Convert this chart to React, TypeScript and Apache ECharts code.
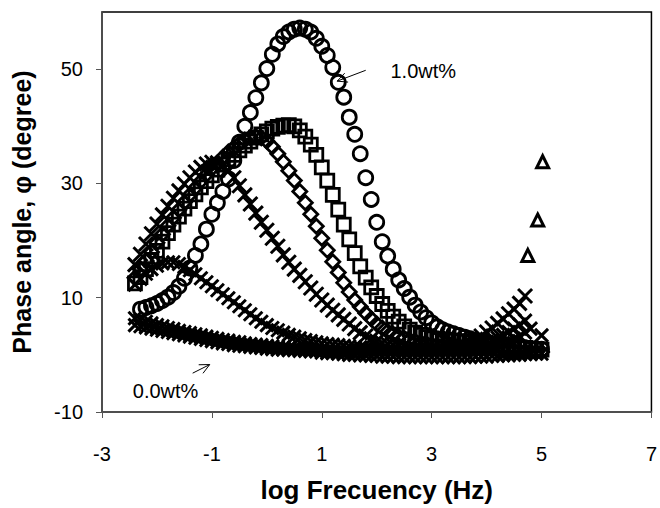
import React, { useEffect, useRef } from "react";
import * as echarts from "echarts";

// log frequency sweep (shared x values)
const logF = [
  -2.4, -2.3, -2.2, -2.1, -2.0, -1.9, -1.8, -1.7, -1.6, -1.5, -1.4, -1.3, -1.2, -1.1, -1.0,
  -0.9, -0.8, -0.7, -0.6, -0.5, -0.4, -0.3, -0.2, -0.1, 0.0, 0.1, 0.2, 0.3, 0.4, 0.5,
  0.6, 0.7, 0.8, 0.9, 1.0, 1.1, 1.2, 1.3, 1.4, 1.5, 1.6, 1.7, 1.8, 1.9, 2.0,
  2.1, 2.2, 2.3, 2.4, 2.5, 2.6, 2.7, 2.8, 2.9, 3.0, 3.1, 3.2, 3.3, 3.4, 3.5,
  3.6, 3.7, 3.8, 3.9, 4.0, 4.1, 4.2, 4.3, 4.4, 4.5, 4.6, 4.7, 4.8, 4.9, 5.0,
];

// 1.0wt% (circles)
const circlePhase = [
  null, 8.0, 8.3, 8.6, 9.0, 9.5, 10.1, 10.9, 12.0, 13.4, 15.2, 17.4, 19.4, 22.0, 24.6,
  26.6, 28.6, 30.8, 34.0, 37.2, 40.0, 42.4, 45.0, 47.6, 50.1, 52.6, 54.4, 55.7, 56.5, 57.0,
  57.2, 57.0, 56.5, 55.4, 54.0, 52.4, 50.3, 47.7, 45.1, 41.6, 38.6, 35.2, 31.0, 27.2, 23.2,
  19.8, 17.3, 15.0, 13.1, 11.6, 10.1, 8.7, 7.5, 6.5, 5.6, 4.9, 4.4, 4.0, 3.7, 3.4,
  3.1, 2.8, 2.5, 2.3, 2.1, 1.9, 1.7, 1.6, 1.5, 1.4, 1.3, 1.2, 1.1, 1.0, 1.0,
];

// squares
const squarePhase = [
  12.5, 13.6, 15.0, 16.6, 18.2, 19.8, 21.3, 22.8, 24.2, 25.6, 26.9, 28.1, 29.3, 30.4, 31.4,
  32.4, 33.3, 34.2, 35.0, 35.8, 36.6, 37.3, 38.0, 38.6, 39.1, 39.6, 39.9, 40.1, 40.2, 40.0,
  39.3, 38.2, 36.8, 35.0, 32.8, 30.5, 28.0, 25.4, 22.8, 20.2, 17.8, 15.5, 13.5, 11.8, 10.3,
  8.9, 7.7, 6.7, 5.8, 5.0, 4.4, 3.9, 3.5, 3.1, 2.9, 2.8, 2.7, 2.6, 2.5, 2.4,
  2.3, 2.2, 2.1, 2.0, 1.9, 1.8, 1.7, 1.6, 1.5, 1.4, 1.3, 1.2, 1.1, 1.0, 0.9,
];

// diamonds
const diamondPhase = [
  13.5, 15.0, 16.5, 18.0, 19.6, 21.1, 22.6, 24.0, 25.4, 26.7, 28.0, 29.2, 30.4, 31.5, 32.6,
  33.6, 34.6, 35.5, 36.3, 37.0, 37.6, 38.0, 38.2, 38.0, 37.4, 36.4, 35.2, 33.8, 32.2, 30.5,
  28.6, 26.6, 24.6, 22.5, 20.4, 18.3, 16.3, 14.4, 12.6, 11.0, 9.6, 8.4, 7.3, 6.3, 5.4,
  4.7, 4.1, 3.6, 3.2, 2.9, 2.6, 2.4, 2.2, 2.0, 1.8, 1.7, 1.6, 1.5, 1.4, 1.3,
  1.2, 1.1, 1.0, 1.0, 0.9, 0.9, 0.8, 0.8, 0.7, 0.7, 0.6, 0.6, 0.5, 0.5, 0.5,
];

// crosses, peak near log f = -1
const crossAPhase = [
  15.8, 17.6, 19.4, 21.2, 22.9, 24.5, 26.0, 27.4, 28.7, 29.9, 31.0, 32.0, 32.8, 33.4, 33.7,
  33.6, 33.0, 32.2, 31.0, 29.6, 28.0, 26.4, 24.8, 23.2, 21.8, 20.4, 19.0, 17.5, 16.2, 15.0,
  13.9, 12.8, 11.7, 10.6, 9.6, 8.7, 7.8, 7.0, 6.2, 5.4, 4.6, 3.9, 3.3, 2.8, 2.4,
  2.1, 1.9, 1.7, 1.6, 1.5, 1.4, 1.3, 1.2, 1.2, 1.1, 1.1, 1.1, 1.2, 1.3, 1.5,
  1.8, 2.2, 2.7, 3.3, 4.0, 4.7, 5.5, 6.3, 7.2, 8.0, 9.0, 10.3, null, null, null,
];

// crosses, small hump near log f = -1.7
const crossBPhase = [
  12.3, 13.3, 14.2, 15.0, 15.6, 16.0, 16.2, 16.2, 15.9, 15.4, 14.8, 14.1, 13.4, 12.7, 12.0,
  11.3, 10.6, 9.9, 9.2, 8.5, 7.8, 7.1, 6.4, 5.8, 5.2, 4.7, 4.3, 3.9, 3.5, 3.2,
  2.9, 2.6, 2.4, 2.2, 2.0, 1.9, 1.8, 1.7, 1.6, 1.5, 1.4, 1.3, 1.2, 1.1, 1.0,
  1.0, 0.9, 0.9, 0.8, 0.8, 0.8, 0.7, 0.7, 0.7, 0.7, 0.7, 0.8, 0.9, 1.0, 1.1,
  1.3, 1.5, 1.7, 2.0, 2.3, 2.6, 3.0, 3.5, 4.0, 4.6, 5.3, 6.0, null, null, 3.4,
];

// 0.0wt% (lowest crosses)
const crossCPhase = [
  5.2, 5.0, 4.8, 4.6, 4.4, 4.2, 4.0, 3.8, 3.6, 3.4, 3.2, 3.0, 2.8, 2.6, 2.4,
  2.2, 2.0, 1.9, 1.7, 1.6, 1.5, 1.4, 1.3, 1.2, 1.1, 1.0, 0.9, 0.9, 0.8, 0.8,
  0.7, 0.7, 0.6, 0.6, 0.4, 0.3, 0.3, 0.2, 0.1, 0.0, 0.0, -0.1, -0.1, -0.2, -0.2,
  -0.3, -0.3, -0.3, -0.4, -0.4, -0.4, -0.4, -0.4, -0.4, -0.4, -0.4, -0.4, -0.4, -0.4, -0.4,
  -0.4, -0.4, -0.3, -0.3, -0.3, -0.2, -0.2, -0.1, -0.1, 0.0, 0.0, 0.1, 0.1, 0.2, 0.2,
];

// second low series
const crossDPhase = [
  6.4, 6.1, 5.8, 5.5, 5.2, 5.0, 4.7, 4.5, 4.2, 4.0, 3.8, 3.6, 3.4, 3.2, 3.0,
  2.8, 2.6, 2.5, 2.3, 2.2, 2.0, 1.9, 1.8, 1.7, 1.6, 1.5, 1.4, 1.3, 1.2, 1.2,
  1.1, 1.0, 1.0, 0.9, 0.9, 0.8, 0.8, 0.8, 0.7, 0.7, 0.7, 0.7, 0.6, 0.6, 0.6,
  0.6, 0.6, 0.6, 0.6, 0.6, 0.6, 0.6, 0.6, 0.6, 0.6, 0.7, 0.7, 0.7, 0.8, 0.8,
  0.9, 1.0, 1.1, 1.2, 1.4, 1.6, 1.8, 2.1, 2.4, 2.8, 3.3, 3.9, 4.6, null, null,
];

// triangles (only the high-frequency points stand out)
const triangleLogF = [4.75, 4.93, 5.02];
const trianglePhase = [17.4, 23.6, 33.8];

const xTicks = [-3, -1, 1, 3, 5, 7];
const yTicks = [-10, 10, 30, 50];

// annotation anchors, data coordinates
const label1 = { text: "1.0wt%", at: [2.25, 49.6], from: [1.8, 49.8], tip: [1.28, 47.9] };
const label0 = { text: "0.0wt%", at: [-2.44, -6.4], from: [-1.35, -3.2], tip: [-1.04, -1.7] };

const FONT = "'Liberation Sans', Arial, sans-serif";
const CROSS = "path://M0,0L10,10M0,10L10,0";

function pairs(xs: number[], ys: (number | null)[]) {
  const out: number[][] = [];
  for (let i = 0; i < xs.length; i++) {
    const y = ys[i];
    if (y !== null && y !== undefined) out.push([xs[i], y]);
  }
  return out;
}

function scatter(name: string, data: number[][], symbol: string, size: number, lw = 2.8) {
  return {
    type: "scatter",
    name,
    data,
    symbol,
    symbolSize: size,
    silent: true,
    itemStyle: { color: "transparent", borderColor: "#000", borderWidth: lw, opacity: 1 },
    emphasis: { disabled: true },
  };
}

export default function App() {
  const ref = useRef<HTMLDivElement>(null);
  useEffect(() => {
    if (!ref.current) return;
    const chart = echarts.init(ref.current, null, { renderer: "svg" });
    chart.setOption({
      animation: false,
      backgroundColor: "#fff",
      grid: { left: 102, right: 6, top: 12, bottom: 92, show: true, borderColor: "#000", borderWidth: 1.5, backgroundColor: "transparent" },
      xAxis: {
        type: "value",
        min: -3,
        max: 7,
        name: "log Frecuency (Hz)",
        nameLocation: "middle",
        nameGap: 65,
        nameTextStyle: { fontFamily: FONT, fontSize: 26, fontWeight: "bold", color: "#000" },
        axisLine: { onZero: false, lineStyle: { color: "#555", width: 1.5 } },
        axisTick: { show: true, inside: false, length: 6, lineStyle: { color: "#555", width: 1 }, customValues: xTicks },
        axisLabel: { customValues: xTicks, fontFamily: FONT, fontSize: 20, color: "#000", margin: 32 },
        splitLine: { show: false },
      },
      yAxis: {
        type: "value",
        min: -10,
        max: 60,
        name: "Phase angle, \u03c6 (degree)",
        nameLocation: "middle",
        nameGap: 68,
        nameRotate: 90,
        nameTextStyle: { fontFamily: FONT, fontSize: 25, fontWeight: "bold", color: "#000" },
        axisLine: { onZero: false, lineStyle: { color: "#555", width: 1.5 } },
        axisTick: { show: true, inside: false, length: 6, lineStyle: { color: "#555", width: 1 }, customValues: yTicks },
        axisLabel: { customValues: yTicks, fontFamily: FONT, fontSize: 20, color: "#000", margin: 19 },
        splitLine: { show: false },
      },
      series: [
        scatter("crossC", pairs(logF, crossCPhase), CROSS, 13, 3),
        scatter("crossD", pairs(logF, crossDPhase), CROSS, 13, 3),
        scatter("crossB", pairs(logF, crossBPhase), CROSS, 13, 3),
        scatter("crossA", pairs(logF, crossAPhase), CROSS, 14, 3),
        scatter("diamond", pairs(logF, diamondPhase), "diamond", 14),
        scatter("square", pairs(logF, squarePhase), "rect", 13),
        scatter("circle", pairs(logF, circlePhase), "circle", 14),
        scatter("triangle", pairs(triangleLogF, trianglePhase), "triangle", 12, 3),
      ],
    });

    const px = (p: number[]) => chart.convertToPixel({ gridIndex: 0 }, p) as number[];
    const arrow = (from: number[], tip: number[]) => {
      const a = px(from);
      const b = px(tip);
      const dx = a[0] - b[0];
      const dy = a[1] - b[1];
      const len = Math.hypot(dx, dy) || 1;
      const ux = dx / len;
      const uy = dy / len;
      const ang = 0.45;
      const hl = 11;
      const r = (s: number) => [
        b[0] + hl * (ux * Math.cos(s * ang) - uy * Math.sin(s * ang)),
        b[1] + hl * (ux * Math.sin(s * ang) + uy * Math.cos(s * ang)),
      ];
      return [
        { type: "line", shape: { x1: a[0], y1: a[1], x2: b[0], y2: b[1] }, style: { stroke: "#000", lineWidth: 1 }, silent: true },
        { type: "polyline", shape: { points: [r(1), b, r(-1)] }, style: { stroke: "#000", lineWidth: 1, fill: "none" }, silent: true },
      ];
    };
    const txt = (l: { text: string; at: number[] }) => {
      const p = px(l.at);
      return {
        type: "text",
        x: p[0],
        y: p[1],
        silent: true,
        style: { text: l.text, fontFamily: FONT, fontSize: 20, fill: "#000", align: "left", verticalAlign: "middle" },
      };
    };
    chart.setOption({
      graphic: [...arrow(label1.from, label1.tip), ...arrow(label0.from, label0.tip), txt(label1), txt(label0)],
    });
    return () => chart.dispose();
  }, []);
  return <div ref={ref} style={{ position: "fixed", left: 0, top: 0, width: 660, height: 508 }} />;
}
